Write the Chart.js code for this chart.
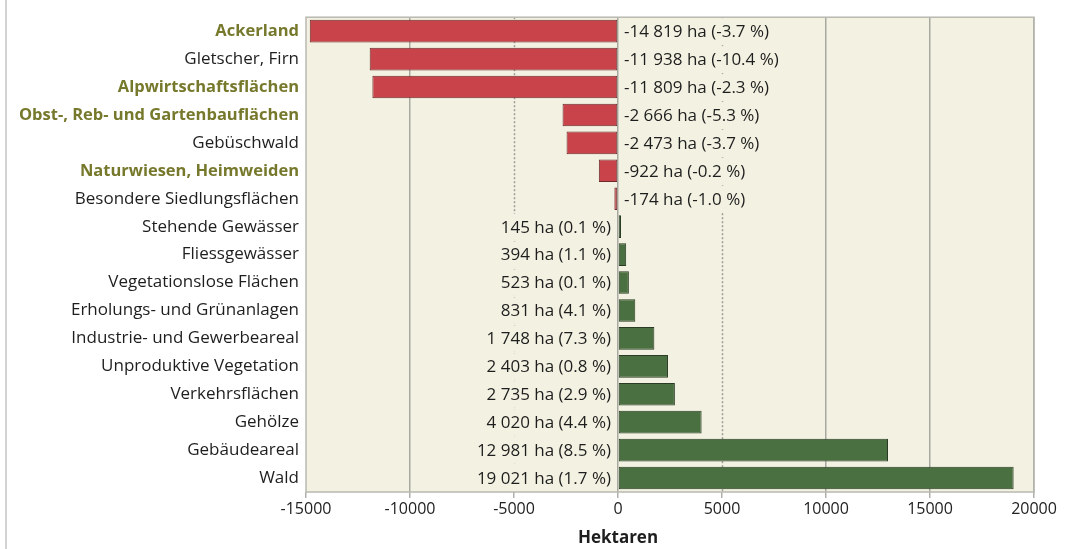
<!DOCTYPE html>
<html>
<head>
<meta charset="utf-8">
<script src="https://cdn.jsdelivr.net/npm/chart.js@4/dist/chart.umd.min.js"></script>
<style>
  body { margin: 0; background: #ffffff; }
  #wrap { width: 1069px; height: 549px; position: relative; }
</style>
</head>
<body>
<div id="wrap"><canvas id="myChart"></canvas></div>
<script>
var categories = ["Ackerland", "Gletscher, Firn", "Alpwirtschaftsflächen", "Obst-, Reb- und Gartenbauflächen",
    "Gebüschwald", "Naturwiesen, Heimweiden", "Besondere Siedlungsflächen", "Stehende Gewässer",
    "Fliessgewässer", "Vegetationslose Flächen", "Erholungs- und Grünanlagen", "Industrie- und Gewerbeareal",
    "Unproduktive Vegetation", "Verkehrsflächen", "Gehölze", "Gebäudeareal", "Wald"];
var hectares = [-14819, -11938, -11809, -2666, -2473, -922, -174, 145, 394, 523, 831, 1748, 2403, 2735, 4020, 12981, 19021];
var percents = ["-3.7", "-10.4", "-2.3", "-5.3", "-3.7", "-0.2", "-1.0", "0.1", "1.1", "0.1", "4.1", "7.3", "0.8", "2.9", "4.4", "8.5", "1.7"];
var highlighted = ["Ackerland", "Alpwirtschaftsflächen", "Obst-, Reb- und Gartenbauflächen", "Naturwiesen, Heimweiden"];
var xTicks = [-15000, -10000, -5000, 0, 5000, 10000, 15000, 20000];
var axisTitle = "Hektaren";

var FONT = "'Open Sans'";
var BEIGE = "#f3f2e2";

function formatHa(v) {
    var s = Math.abs(v).toString().replace(/\B(?=(\d{3})+(?!\d))/g, " ");
    return (v < 0 ? "-" : "") + s;
}

var framePlugin = {
    id: "frame",
    beforeDraw: function (chart) {
        var ctx = chart.ctx, a = chart.chartArea;
        ctx.save();
        ctx.fillStyle = BEIGE;
        ctx.fillRect(a.left, a.top, a.right - a.left, a.bottom - a.top);
        // left outer line of the figure
        ctx.strokeStyle = "#c4c4c4";
        ctx.lineWidth = 1.5;
        ctx.beginPath();
        ctx.moveTo(6, 0);
        ctx.lineTo(6, chart.height);
        ctx.stroke();
        ctx.restore();
    },
    beforeDatasetsDraw: function (chart) {
        var ctx = chart.ctx, a = chart.chartArea, x = chart.scales.x;
        ctx.save();
        ctx.strokeStyle = "#9a9a94";
        ctx.lineWidth = 1.5;
        ctx.setLineDash([2, 2]);
        [-5000, 5000].forEach(function (v) {
            var px = Math.round(x.getPixelForValue(v)) + 0.5;
            ctx.beginPath();
            ctx.moveTo(px, a.top);
            ctx.lineTo(px, a.bottom);
            ctx.stroke();
        });
        ctx.restore();
    },
    afterDatasetsDraw: function (chart) {
        var ctx = chart.ctx, a = chart.chartArea, x = chart.scales.x, y = chart.scales.y;
        var zero = x.getPixelForValue(0);
        var rowH = (y.bottom - y.top) / categories.length;
        ctx.save();
        ctx.font = "17px " + FONT;
        ctx.textBaseline = "middle";
        for (var i = 0; i < hectares.length; i++) {
            var txt = formatHa(hectares[i]) + " ha (" + percents[i] + " %)";
            var w = ctx.measureText(txt).width;
            var cy = y.getPixelForValue(i);
            var tx;
            if (hectares[i] < 0) {
                tx = zero + 6;
            } else {
                tx = zero - 7 - w;
            }
            ctx.fillStyle = BEIGE;
            ctx.fillRect(tx - 2, cy - rowH / 2 + 1, w + 4, rowH - 2);
            ctx.fillStyle = "#1e1e1e";
            ctx.textAlign = "left";
            ctx.fillText(txt, tx, cy + 1);
        }
        // plot frame
        ctx.strokeStyle = "#b9b9b2";
        ctx.lineWidth = 1.5;
        ctx.strokeRect(a.left, a.top, a.right - a.left, a.bottom - a.top);
        // axis title, centred under the zero value
        ctx.font = "bold 17px " + FONT;
        ctx.textAlign = "center";
        ctx.fillStyle = "#1e1e1e";
        ctx.fillText(axisTitle, zero, 538);
        ctx.restore();
    }
};

var chart = new Chart("myChart", {
    type: "bar",
    data: {
        labels: categories,
        datasets: [{
            data: hectares,
            backgroundColor: hectares.map(function (v) { return v < 0 ? "#c8434a" : "#4a6f41"; }),
            borderColor: hectares.map(function (v) { return v < 0 ? "#6b2a2c" : "#2a3c24"; }),
            borderWidth: 1,
            borderSkipped: false,
            barPercentage: 0.81,
            categoryPercentage: 1
        }]
    },
    options: {
        indexAxis: "y",
        responsive: true,
        maintainAspectRatio: false,
        animation: false,
        layout: { padding: { top: 5, right: 35, left: 0, bottom: 0 } },
        plugins: { legend: { display: false }, tooltip: { enabled: false } },
        scales: {
            x: {
                min: -15000,
                max: 20000,
                afterBuildTicks: function (scale) {
                    scale.ticks = xTicks.map(function (v) { return { value: v }; });
                },
                afterFit: function (scale) { scale.height = 57; },
                grid: {
                    color: function (c) {
                        var v = c.tick ? c.tick.value : 0;
                        if (v === -5000 || v === 5000 || v === -15000) return "rgba(0,0,0,0)";
                        return "#a8a8a2";
                    },
                    lineWidth: 1.5,
                    tickColor: "#b0b0aa",
                    tickLength: 6,
                    drawTicks: true
                },
                border: { display: false },
                ticks: {
                    color: "#222222",
                    font: { family: FONT, size: 16 },
                    padding: 2,
                    maxRotation: 0,
                    callback: function (v) { return v; }
                }
            },
            y: {
                afterFit: function (scale) { scale.width = 306; },
                grid: { display: false, drawTicks: false },
                border: { display: false },
                ticks: {
                    padding: 7,
                    color: function (c) {
                        return highlighted.indexOf(categories[c.index]) >= 0 ? "#76782b" : "#1e1e1e";
                    },
                    font: function (c) {
                        var bold = highlighted.indexOf(categories[c.index]) >= 0;
                        return { family: FONT, size: bold ? 16.5 : 17, weight: bold ? "bold" : "normal" };
                    }
                }
            }
        }
    },
    plugins: [framePlugin]
});
</script>
</body>
</html>
